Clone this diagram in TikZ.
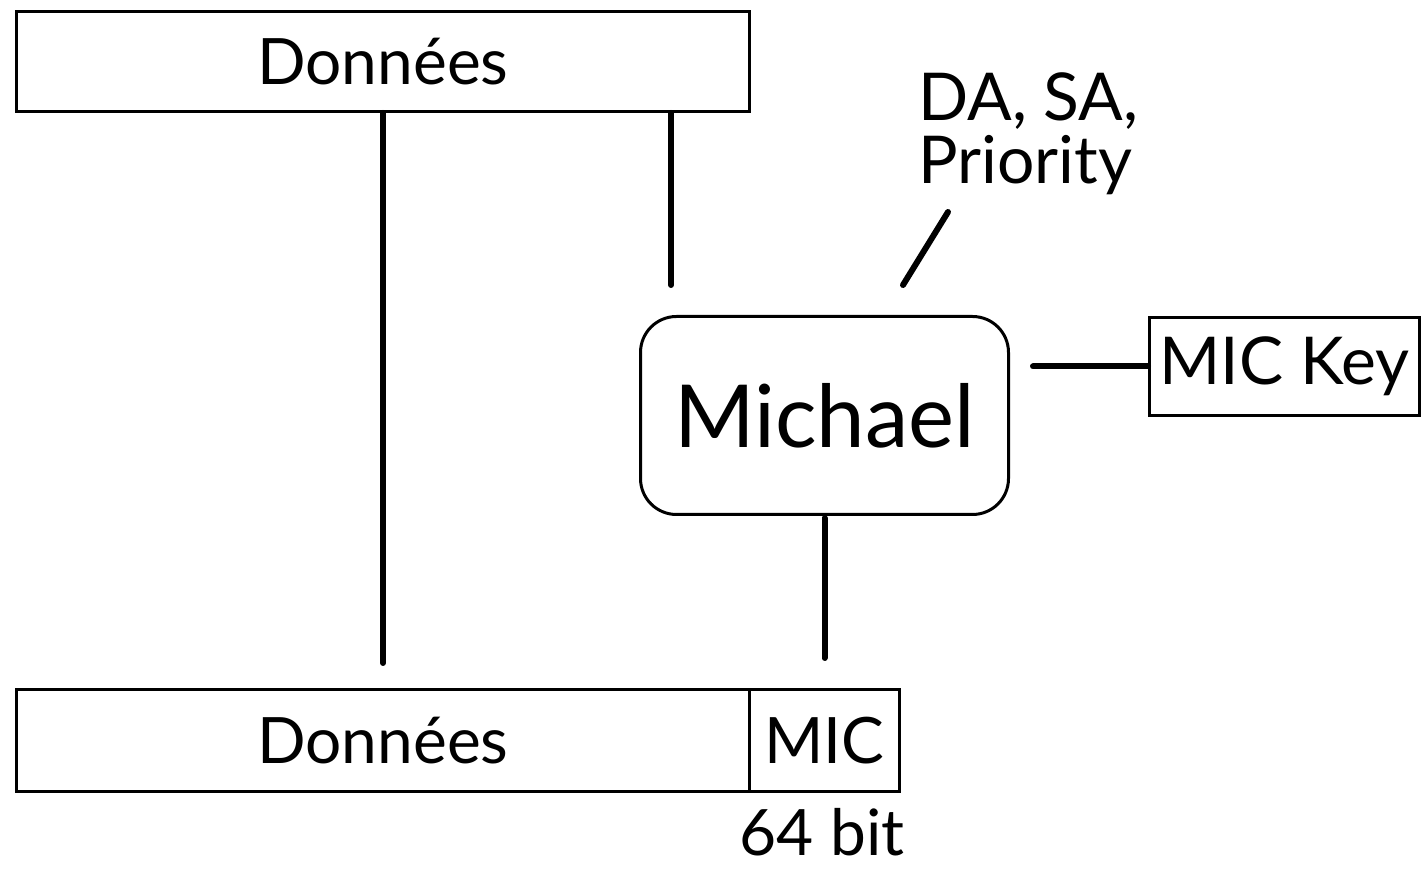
\documentclass[tikz,border=0pt]{standalone}
\usepackage{fontspec}
\setmainfont{Lato}
\usetikzlibrary{calc}
\begin{document}
\begin{tikzpicture}[x=0.5pt,y=-0.5pt,
  box/.style={draw,line width=1.5pt,inner sep=0pt,anchor=north west},
  conn/.style={line width=3pt,line cap=round},
  big/.style={font=\fontsize{32}{38}\selectfont}]
\useasboundingbox (0,0) rectangle (1421,870);
\node[box,big,minimum width=366.5pt,minimum height=50pt] (topD) at (15,10) {Données};
\node[box,big,minimum width=366.5pt,minimum height=51pt] (botD) at (15,688) {Données};
\node[box,big,minimum width=75pt,minimum height=51pt] (mic) at (748,688) {MIC};
\node[box,big,minimum width=184pt,minimum height=99pt,rounded corners=18pt,font=\fontsize{43.5}{50}\selectfont] (mich) at (639,315) {Michael};
\node[box,big,minimum width=135pt,minimum height=49pt,font=\fontsize{33}{38}\selectfont] (key) at (1148,316) {MIC Key};
\node[big,align=left,anchor=north west,inner sep=0pt,font=\fontsize{33}{31.5}\selectfont] (da) at (918,72) {DA, SA,\\Priority};
\node[big,anchor=base,inner sep=0pt,font=\fontsize{32}{38}\selectfont] (bits) at (822,856) {64 bit};
\coordinate (m1) at (671,285);
\coordinate (d1) at (948,212);
\coordinate (d2) at (903,285);
\draw[conn,shorten >=12.5pt] (topD.south) -- (botD.north);
\draw[conn] (topD.south -| m1) -- (m1);
\draw[conn] (d1) -- (d2);
\draw[conn,shorten >=11.5pt] (key.west) -- (mich.east |- key.west);
\draw[conn,shorten >=15pt,shorten <=1pt] (mich.south) -- (mic.north);
\end{tikzpicture}
\end{document}
